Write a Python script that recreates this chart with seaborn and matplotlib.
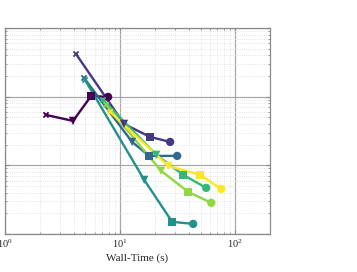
import pandas as pd
import numpy as np
import matplotlib
matplotlib.use('Agg')
import matplotlib.pyplot as plt
import seaborn as sns

# values (log-log axes)
series = ['r0', 'r1', 'r2', 'r3', 'r4', 'r5', 'r6']
wall_time = [
    [2.27, 3.90, 5.60, 7.86],
    [4.14, 10.8, 18.2, 27.2],
    [4.86, 12.7, 17.9, 31.3],
    [4.96, 16.2, 28.3, 43.1],
    [7.11, 20.6, 35.3, 55.9],
    [7.56, 22.7, 39.0, 61.9],
    [8.19, 26.2, 49.6, 75.6],
]
error = [
    [0.0542, 0.0443, 0.1023, 0.0990],
    [0.418, 0.0401, 0.0259, 0.0219],
    [0.187, 0.0219, 0.0137, 0.0137],
    [0.175, 0.00613, 0.00150, 0.00140],
    [0.0895, 0.0142, 0.00725, 0.00469],
    [0.0757, 0.0083, 0.0041, 0.00284],
    [0.0599, 0.0098, 0.00725, 0.00453],
]
step_markers = {1: 'v', 2: 's', 3: 'o'}

rows = []
for name, ts, es in zip(series, wall_time, error):
    for i, (t, e) in enumerate(zip(ts, es)):
        rows.append({'series': name, 'step': i, 'time': t, 'error': e})
df = pd.DataFrame(rows)

sns.set_style('ticks')
plt.rcParams['font.family'] = ['Liberation Serif', 'DejaVu Serif']
plt.rcParams['mathtext.fontset'] = 'stix'

# full viridis range, endpoints included
cols = plt.cm.viridis(np.linspace(0, 1, len(series)))
palette = {name: tuple(c) for name, c in zip(series, cols)}

fig = plt.figure(figsize=(3.57, 2.72), dpi=100)
ax = fig.add_axes([0.014, 0.14, 0.742, 0.757])

sns.lineplot(data=df, x='time', y='error', hue='series', palette=palette,
             units='series', estimator=None, sort=False, lw=1.7,
             legend=False, ax=ax)
sns.scatterplot(data=df[df['step'] > 0], x='time', y='error', hue='series',
                style='step', markers=step_markers, palette=palette,
                s=36, linewidth=0, legend=False, ax=ax, zorder=3)
sns.scatterplot(data=df[df['step'] == 0], x='time', y='error', hue='series',
                marker='x', palette=palette, s=14, linewidth=1.3,
                legend=False, ax=ax, zorder=3)

ax.set_xscale('log')
ax.set_yscale('log')
ax.set_xlim(1, 200)
ax.set_ylim(1e-3, 1)

ax.grid(True, which='major', color='#a8a8a8', lw=0.9, ls='-')
ax.grid(True, which='minor', color='#dcdcdc', lw=0.6, ls=':')
ax.set_axisbelow(True)
for sp in ax.spines.values():
    sp.set_color('#8a8a8a')
    sp.set_linewidth(0.9)
ax.tick_params(which='both', direction='in', top=True, right=True,
               color='#8a8a8a', labelsize=7.5, pad=3)
ax.tick_params(which='major', length=3)
ax.tick_params(which='minor', length=1.5)

ax.set_xlabel('Wall-Time (s)', fontsize=8, labelpad=2)
ax.set_ylabel('')

fig.savefig('out.png', dpi=100)
